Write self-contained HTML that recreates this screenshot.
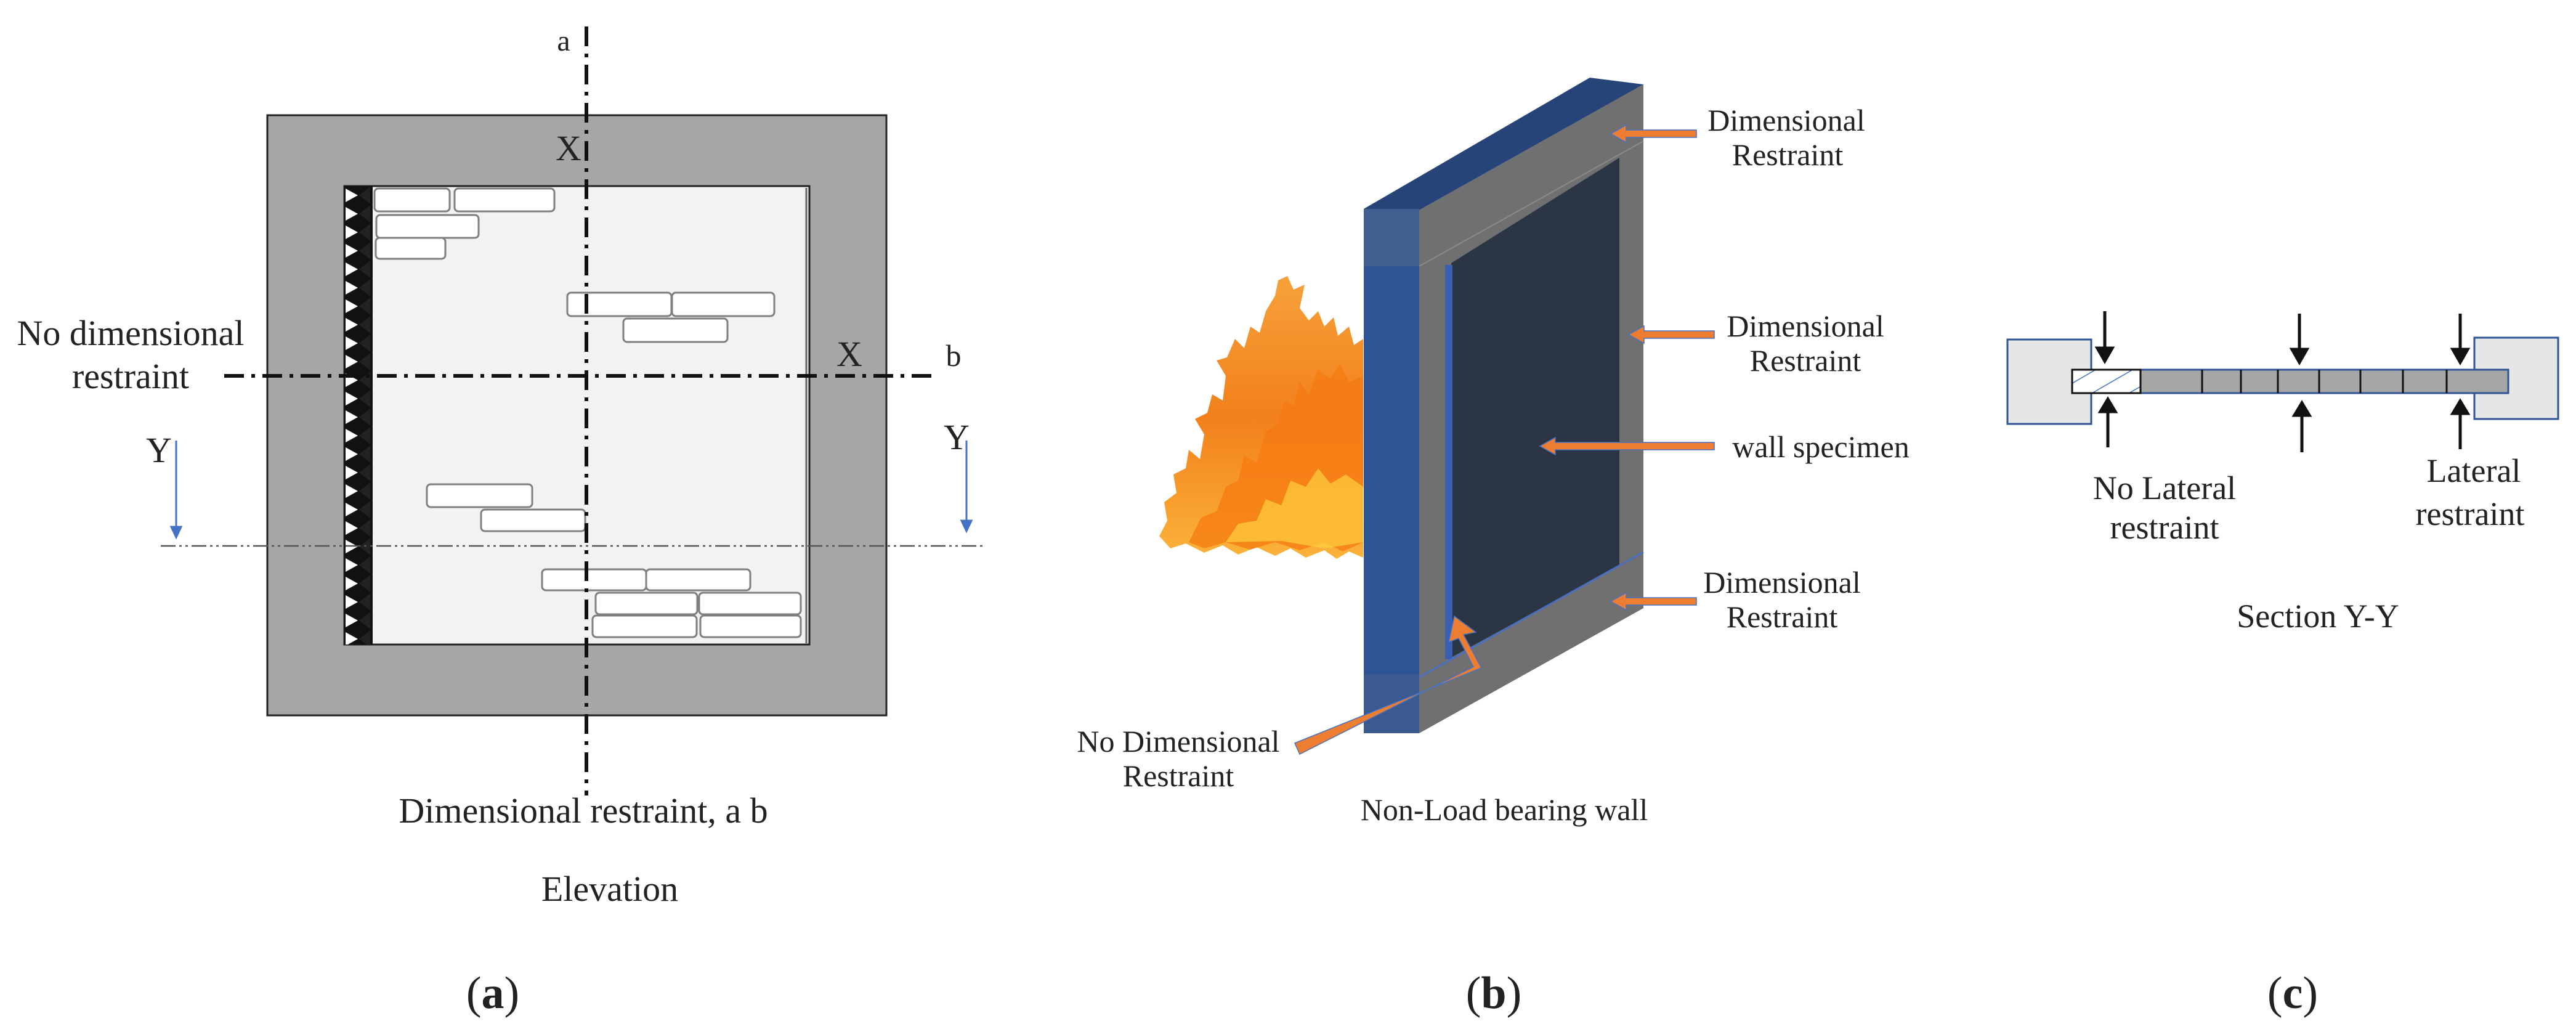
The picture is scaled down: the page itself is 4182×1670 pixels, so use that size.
<!DOCTYPE html>
<html><head><meta charset="utf-8"><style>
html,body{margin:0;padding:0;background:#fff;}
svg{display:block;}
text{font-family:"Liberation Serif",serif;fill:#222;}
</style></head><body>
<svg width="4182" height="1670" viewBox="0 0 4182 1670" xmlns="http://www.w3.org/2000/svg">
<defs>
<pattern id="zig" x="559" y="302" width="44" height="30" patternUnits="userSpaceOnUse">
<rect width="44" height="30" fill="#111"/>
<polygon points="2,4 22,15 2,26" fill="#fff"/>
<polygon points="44,0 24,15 44,30" fill="#222"/>
</pattern>
<pattern id="hat" width="30" height="30" patternUnits="userSpaceOnUse" patternTransform="rotate(-30)">
<rect width="30" height="30" fill="#fff"/>
<line x1="0" y1="0" x2="30" y2="0" stroke="#4472c4" stroke-width="3"/>
</pattern>
<linearGradient id="fl" x1="0" y1="0" x2="0" y2="1">
<stop offset="0" stop-color="#f7a13a"/><stop offset="0.5" stop-color="#f2801c"/><stop offset="1" stop-color="#fbb33a"/>
</linearGradient>
</defs>

<!-- ========== Panel (a) ========== -->
<rect x="434" y="187" width="1005" height="974" fill="#a6a6a6" stroke="#222" stroke-width="3"/>
<rect x="559" y="302" width="755" height="744" fill="#f2f2f2" stroke="#222" stroke-width="3"/>
<rect x="559" y="302" width="44" height="744" fill="url(#zig)"/>
<line x1="603" y1="302" x2="603" y2="1046" stroke="#111" stroke-width="4"/>
<line x1="1309" y1="305" x2="1309" y2="1044" stroke="#666" stroke-width="3"/>
<g fill="#fff" stroke="#7f7f7f" stroke-width="3">
<rect x="608" y="306" width="122" height="37" rx="6"/>
<rect x="738" y="306" width="162" height="37" rx="6"/>
<rect x="611" y="349" width="166" height="37" rx="6"/>
<rect x="610" y="386" width="113" height="34" rx="6"/>
<rect x="921" y="475" width="169" height="38" rx="6"/>
<rect x="1091" y="475" width="166" height="38" rx="6"/>
<rect x="1012" y="517" width="169" height="38" rx="6"/>
<rect x="693" y="786" width="171" height="37" rx="6"/>
<rect x="781" y="827" width="169" height="35" rx="6"/>
<rect x="880" y="924" width="169" height="34" rx="6"/>
<rect x="1049" y="924" width="169" height="34" rx="6"/>
<rect x="967" y="962" width="165" height="35" rx="6"/>
<rect x="1135" y="962" width="165" height="35" rx="6"/>
<rect x="962" y="999" width="169" height="35" rx="6"/>
<rect x="1137" y="999" width="163" height="35" rx="6"/>
</g>
<line x1="952" y1="43" x2="952" y2="1291" stroke="#111" stroke-width="6" stroke-dasharray="32,12,6,12"/>
<line x1="364" y1="610" x2="1520" y2="610" stroke="#111" stroke-width="6" stroke-dasharray="32,12,6,12"/>
<line x1="261" y1="886" x2="1596" y2="886" stroke="#555" stroke-width="2.5" stroke-dasharray="24,6,4,6,4,6"/>
<g stroke="#4472c4" stroke-width="3" fill="#4472c4">
<line x1="286" y1="715" x2="286" y2="862"/><polygon points="278,855 294,855 286,872"/>
<line x1="1569" y1="715" x2="1569" y2="852"/><polygon points="1561,845 1577,845 1569,862"/>
</g>
<g font-size="58" text-anchor="middle">
<text x="915" y="82" font-size="48">a</text>
<text x="923" y="260">X</text>
<text x="212" y="560">No dimensional</text>
<text x="212" y="630">restraint</text>
<text x="1379" y="594">X</text>
<text x="1548" y="594" font-size="50">b</text>
<text x="258" y="750">Y</text>
<text x="1553" y="729">Y</text>
<text x="947" y="1335">Dimensional restraint, a b</text>
<text x="990" y="1462">Elevation</text>
</g>
<text x="800" y="1636" font-size="74" text-anchor="middle">(<tspan font-weight="bold">a</tspan>)</text>

<!-- ========== Panel (b) ========== -->
<!-- flames -->
<path d="M1882,870 L1895,845 L1890,815 L1910,800 L1905,770 L1925,760 L1930,730 L1948,745 L1955,705 L1940,680 L1960,670 L1968,640 L1985,650 L1990,610 L1975,585 L1992,580 L2005,550 L2020,565 L2030,530 L2045,540 L2055,505 L2070,480 L2075,455 L2090,448 L2100,470 L2118,462 L2110,500 L2125,520 L2140,505 L2150,530 L2165,515 L2172,545 L2190,530 L2198,560 L2213,550 L2213,905 L2190,895 L2170,907 L2150,893 L2120,905 L2095,890 L2070,902 L2040,888 L2010,900 L1985,885 L1955,897 L1925,882 L1900,890 Z" fill="url(#fl)"/>
<path d="M1930,880 L1950,840 L1975,830 L1990,790 L2010,780 L2020,740 L2040,750 L2055,700 L2075,690 L2085,650 L2100,660 L2110,620 L2125,640 L2140,600 L2160,615 L2175,590 L2190,620 L2213,610 L2213,880 L2180,895 L2150,880 L2110,893 L2070,880 L2030,892 L1990,880 L1955,890 Z" fill="#f57a12" opacity="0.75"/>
<path d="M1990,880 L2010,850 L2040,845 L2055,810 L2080,820 L2095,780 L2120,790 L2140,760 L2160,785 L2185,770 L2213,790 L2213,880 L2150,890 L2080,878 Z" fill="#ffd040" opacity="0.7"/>
<!-- gray frame background -->
<polygon points="2304,341 2668,137 2668,987 2304,1190" fill="#707070"/>
<!-- top beam top face -->
<polygon points="2214,339 2581,126 2668,137 2304,341" fill="#264478"/>
<!-- dark panel -->
<polygon points="2356,427 2629,256 2629,918 2356,1067" fill="#2b3544"/>
<line x1="2304" y1="432" x2="2668" y2="229" stroke="#8a8a8a" stroke-width="2"/>
<rect x="2346" y="430" width="12" height="640" fill="#3a5fb0"/>
<line x1="2304" y1="1099" x2="2668" y2="896" stroke="#4a6fc0" stroke-width="3"/>
<!-- left post front -->
<rect x="2214" y="339" width="90" height="851" fill="#2f5496"/>
<rect x="2214" y="339" width="90" height="93" fill="#41608f"/>
<rect x="2214" y="1094" width="90" height="96" fill="#3a5a90"/>
<!-- orange arrows -->
<g fill="#ed7d31" stroke="#4472c4" stroke-width="1.5">
<polygon points="2754,211 2640,211 2640,203 2615,217 2640,231 2640,223 2754,223"/>
<polygon points="2783,537 2669,537 2669,529 2644,543 2669,557 2669,549 2783,549"/>
<polygon points="2783,718 2525,718 2525,710 2500,724 2525,738 2525,730 2783,730"/>
<polygon points="2754,970 2640,970 2640,962 2615,976 2640,990 2640,982 2754,982"/>
<polygon points="2102,1206 2405,1084 2376,1030 2396,1026 2361,1000 2352,1042 2368,1036 2392,1082 2110,1224"/>
</g>
<g font-size="50" text-anchor="middle">
<text x="2900" y="212">Dimensional</text>
<text x="2902" y="268">Restraint</text>
<text x="2931" y="546">Dimensional</text>
<text x="2931" y="602">Restraint</text>
<text x="2956" y="742">wall specimen</text>
<text x="2893" y="962">Dimensional</text>
<text x="2893" y="1018">Restraint</text>
<text x="1913" y="1220">No Dimensional</text>
<text x="1913" y="1276">Restraint</text>
<text x="2442" y="1331">Non-Load bearing wall</text>
</g>
<text x="2425" y="1636" font-size="74" text-anchor="middle">(<tspan font-weight="bold">b</tspan>)</text>

<!-- ========== Panel (c) ========== -->
<rect x="3259" y="551" width="136" height="137" fill="#e6e6e6" stroke="#2f5496" stroke-width="3"/>
<rect x="4017" y="548" width="136" height="132" fill="#e6e6e6" stroke="#2f5496" stroke-width="3"/>
<rect x="3475" y="600" width="597" height="38" fill="#a6a6a6" stroke="#2f5496" stroke-width="3"/>
<rect x="3364" y="600" width="111" height="38" fill="url(#hat)" stroke="#111" stroke-width="3"/>
<g stroke="#111" stroke-width="3">
<line x1="3575" y1="600" x2="3575" y2="638"/><line x1="3638" y1="600" x2="3638" y2="638"/>
<line x1="3698" y1="600" x2="3698" y2="638"/><line x1="3765" y1="600" x2="3765" y2="638"/>
<line x1="3832" y1="600" x2="3832" y2="638"/><line x1="3901" y1="600" x2="3901" y2="638"/>
<line x1="3972" y1="600" x2="3972" y2="638"/>
</g>
<g stroke="#111" stroke-width="5" fill="#111">
<line x1="3417" y1="505" x2="3417" y2="570"/><polygon points="3405,565 3429,565 3417,586"/>
<line x1="3733" y1="509" x2="3733" y2="572"/><polygon points="3721,567 3745,567 3733,588"/>
<line x1="3994" y1="509" x2="3994" y2="572"/><polygon points="3982,567 4006,567 3994,588"/>
<line x1="3422" y1="726" x2="3422" y2="662"/><polygon points="3410,668 3434,668 3422,648"/>
<line x1="3737" y1="734" x2="3737" y2="668"/><polygon points="3725,674 3749,674 3737,654"/>
<line x1="3994" y1="729" x2="3994" y2="665"/><polygon points="3982,671 4006,671 3994,651"/>
</g>
<g font-size="54" text-anchor="middle">
<text x="3514" y="810">No Lateral</text>
<text x="3514" y="874">restraint</text>
<text x="4016" y="782">Lateral</text>
<text x="4010" y="852">restraint</text>
<text x="3763" y="1018">Section Y-Y</text>
</g>
<text x="3722" y="1636" font-size="74" text-anchor="middle">(<tspan font-weight="bold">c</tspan>)</text>
</svg>
</body></html>
